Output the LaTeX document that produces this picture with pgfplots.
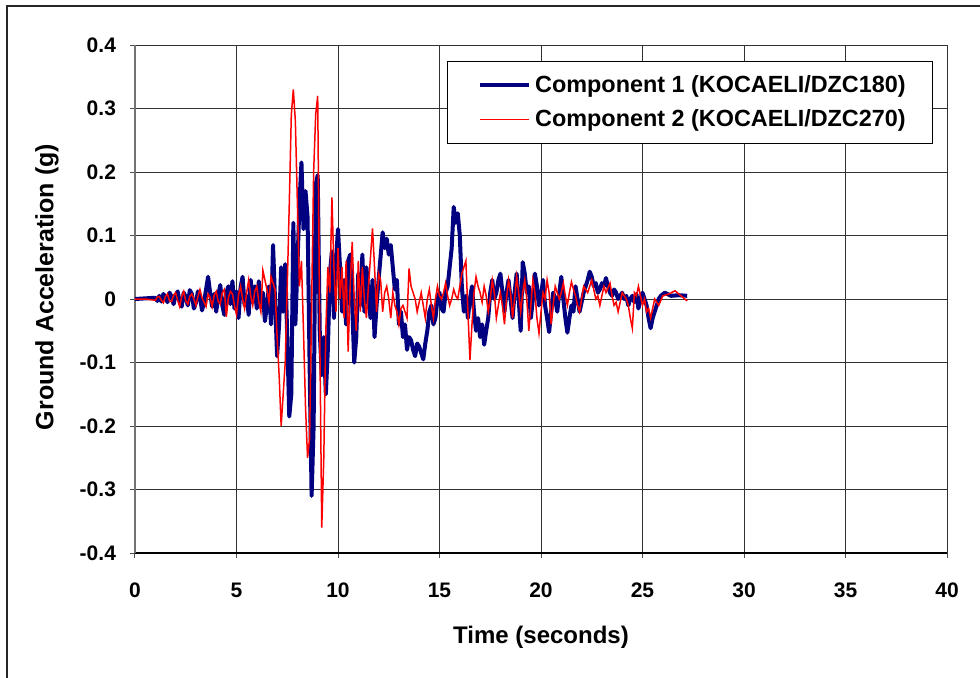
\documentclass[border=0pt]{standalone}
\usepackage{pgfplots}
\pgfplotsset{compat=1.18}
\usepackage{fontspec}
\setmainfont{Liberation Sans}
\newcommand\chartfont{\fontsize{10.5}{12.6}\selectfont\bfseries}
\newcommand\labelfont{\fontsize{12}{14.4}\selectfont\bfseries}
\newcommand\ylabelfont{\fontsize{12.5}{15}\selectfont\bfseries}
\newcommand\legendfont{\fontsize{11.7}{14}\selectfont\bfseries}
\definecolor{compone}{RGB}{0,0,128}
\definecolor{comptwo}{RGB}{255,0,0}
\definecolor{gridgray}{RGB}{50,50,50}

\begin{document}
\begin{tikzpicture}
\useasboundingbox (-67.5pt,-62pt) rectangle (422.5pt,276.5pt);
\draw[line width=0.8pt, black!85] (-64pt,-70pt) -- (-64pt,273.5pt) -- (430pt,273.5pt);
\begin{axis}[
  scale only axis,
  width=406pt, height=254pt,
  xmin=0, xmax=40, ymin=-0.4, ymax=0.4,
  xtick={0,5,...,40},
  ytick={-0.4,-0.3,...,0.4},
  yticklabels={-0.4,-0.3,-0.2,-0.1,0,0.1,0.2,0.3,0.4},
  axis x line*=bottom, axis y line*=left,
  x axis line style={line width=1.2pt, black, -},
  y axis line style={line width=0.9pt, black!55, -},
  grid=major,
  major grid style={line width=0.5pt, gridgray},
  tick align=outside,
  major tick length=2.5pt,
  tick style={black!70, line width=0.5pt},
  /pgf/number format/assume math mode=true,
  tick label style={font=\chartfont},
  xticklabel style={yshift=-9pt},
  yticklabel style={xshift=-3.5pt},
  xlabel={Time (seconds)},
  ylabel={Ground Acceleration (g)},
  xlabel style={font=\labelfont, at={(rel axis cs:0.5,0)}, anchor=center, yshift=-42pt},
  ylabel style={font=\ylabelfont, at={(rel axis cs:0,0.5)}, anchor=center, yshift=44pt, xshift=6pt},
  legend style={at={(0.983,0.9685)}, anchor=north east, draw=black, line width=0.5pt,
    font=\legendfont, inner xsep=11.5pt, inner ysep=5pt, row sep=3pt},
  legend cell align=left,
  legend image code/.code={\path (0pt,0pt); \draw[#1] (4pt,0pt) -- (28.5pt,0pt);},
]
\addplot[color=compone, line width=2pt, line join=round] coordinates {
(0,0) (0.5,0.001) (1.0,0.002) (1.1,-0.003) (1.2,0.005) (1.3,-0.004) (1.4,0.008)
(1.5,0.002) (1.6,-0.005) (1.7,0.010) (1.8,0.004) (1.9,-0.008) (2.0,0.006)
(2.1,0.012) (2.2,-0.004) (2.3,-0.012) (2.4,0.010) (2.5,0.003) (2.6,-0.010)
(2.7,0.014) (2.8,0.008) (2.9,-0.015) (3.0,-0.006) (3.1,0.012) (3.2,0.004)
(3.3,-0.018) (3.4,-0.005) (3.5,0.015) (3.6,0.035) (3.7,0.010) (3.8,-0.012)
(3.9,0.008) (4.0,-0.020) (4.1,0.005) (4.2,0.022) (4.3,-0.010) (4.4,-0.025)
(4.5,0.010) (4.6,0.020) (4.7,-0.008) (4.8,0.028) (4.9,-0.015) (5.0,0.012)
(5.1,-0.030) (5.2,0.018) (5.3,0.035) (5.4,-0.010) (5.5,0.005) (5.6,-0.025)
(5.7,0.030) (5.8,-0.005) (5.9,0.020) (6.0,-0.015) (6.1,0.028) (6.2,-0.008)
(6.3,0.010) (6.4,-0.035) (6.5,-0.010) (6.6,0.020) (6.7,-0.040)
(6.8,0.085) (7.0,-0.090) (7.1,-0.040) (7.2,0.050) (7.3,-0.020) (7.4,0.055)
(7.5,-0.060) (7.6,-0.185) (7.7,-0.150) (7.8,0.120) (7.9,-0.040) (8.0,0.050)
(8.1,0.150) (8.2,0.215) (8.3,0.110) (8.4,0.170) (8.5,0.130) (8.6,-0.100)
(8.7,-0.310) (8.8,-0.200) (8.9,0.180) (9.0,0.195) (9.1,-0.050) (9.2,-0.120)
(9.3,-0.060) (9.4,-0.150) (9.5,-0.080) (9.6,0.040) (9.7,0.075) (9.8,-0.030)
(9.9,0.060) (10.0,0.110) (10.1,0.050) (10.2,-0.020) (10.3,0.030) (10.4,-0.040)
(10.5,0.060) (10.6,0.070) (10.7,-0.010) (10.8,-0.100) (10.9,-0.060) (11.0,0.040)
(11.1,-0.010) (11.2,0.070) (11.3,-0.020) (11.4,0.050) (11.5,0.010) (11.6,-0.030)
(11.7,0.030) (11.8,-0.060) (11.9,-0.010) (12.0,0.030) (12.2,0.105) (12.3,0.080)
(12.4,0.095) (12.5,0.070) (12.6,0.085) (12.8,0.015) (12.9,0.030) (13.0,-0.040)
(13.1,-0.020) (13.2,-0.060) (13.3,-0.040) (13.4,-0.080) (13.5,-0.060)
(13.6,-0.065) (13.7,-0.080) (13.8,-0.090) (13.9,-0.070) (14.0,-0.075)
(14.1,-0.085) (14.2,-0.095) (14.3,-0.070) (14.4,-0.050) (14.5,-0.020)
(14.6,-0.010) (14.7,-0.040) (14.8,-0.030) (14.9,0.000) (15.0,0.010)
(15.1,-0.015) (15.2,-0.020) (15.3,0.010) (15.4,0.020) (15.5,0.050) (15.6,0.080)
(15.7,0.145) (15.8,0.120) (15.9,0.135) (16.0,0.100) (16.1,0.020) (16.2,-0.020)
(16.3,0.005) (16.4,-0.030) (16.5,0.000) (16.6,0.020) (16.7,-0.020) (16.8,-0.050)
(16.9,-0.030) (17.0,-0.060) (17.1,-0.040) (17.2,-0.072) (17.3,-0.050)
(17.4,-0.030) (17.5,0.010) (17.6,0.030) (17.7,0.000) (17.8,0.010) (17.9,0.030)
(18.0,0.040) (18.1,0.010) (18.2,-0.020) (18.3,0.010) (18.4,0.030) (18.5,0.000)
(18.6,-0.030) (18.7,0.010) (18.8,0.040) (18.9,0.000) (19.0,-0.050) (19.1,0.058)
(19.2,0.040) (19.3,0.010) (19.4,0.020) (19.5,-0.030) (19.6,0.000) (19.7,0.040)
(19.8,0.020) (19.9,-0.010) (20.0,0.005) (20.1,0.030) (20.2,-0.010) (20.3,-0.030)
(20.4,-0.052) (20.5,-0.020) (20.6,0.010) (20.7,0.000) (20.8,-0.020) (20.9,0.010)
(21.0,0.035) (21.1,0.000) (21.2,-0.030) (21.3,-0.053) (21.4,-0.030)
(21.5,-0.010) (21.6,-0.020) (21.7,0.020) (21.8,0.000) (21.9,-0.020) (22.0,-0.005)
(22.1,0.010) (22.2,0.020) (22.3,0.030) (22.4,0.043) (22.5,0.035) (22.6,0.020)
(22.7,0.025) (22.8,0.010) (22.9,0.015) (23.0,0.025) (23.1,0.020) (23.2,0.033)
(23.3,0.020) (23.4,0.010) (23.5,0.005) (23.6,0.015) (23.7,0.010) (23.8,0.000)
(23.9,0.005) (24.0,0.010) (24.1,0.000) (24.2,0.005) (24.3,-0.010) (24.4,0.000)
(24.5,0.005) (24.6,-0.005) (24.7,0.008) (24.8,-0.015) (24.9,0.000) (25.0,0.010)
(25.1,0.000) (25.2,-0.010) (25.3,-0.030) (25.4,-0.046) (25.5,-0.030)
(25.6,-0.020) (25.7,-0.010) (25.8,0.000) (25.9,0.005) (26.1,0.010) (26.4,0.005)
(26.8,0.006) (27.2,0.005)
};
\addlegendentry{Component 1 (KOCAELI/DZC180)}
\addplot[color=comptwo, line width=0.75pt] coordinates {
(0,0) (0.5,0.000) (1.0,-0.002) (1.1,0.003) (1.2,0.004) (1.3,-0.002) (1.4,-0.006)
(1.5,0.004) (1.6,0.008) (1.7,-0.003) (1.8,-0.004) (1.9,0.006) (2.0,0.010)
(2.1,-0.002) (2.2,-0.012) (2.3,0.004) (2.4,0.012) (2.5,-0.003) (2.6,-0.008)
(2.7,0.004) (2.8,0.008) (2.9,0.000) (3.0,-0.010) (3.1,0.004) (3.2,0.015)
(3.3,0.002) (3.4,-0.005) (3.5,-0.012) (3.6,0.008) (3.7,0.002) (3.8,-0.012)
(3.9,0.006) (4.0,0.012) (4.1,-0.004) (4.2,-0.008) (4.3,0.010) (4.4,0.015)
(4.5,-0.028) (4.6,0.002) (4.7,0.012) (4.8,0.008) (4.9,-0.010) (5.0,-0.025)
(5.1,0.006) (5.2,0.020) (5.3,0.000) (5.4,-0.015) (5.5,0.010) (5.6,0.030)
(5.7,0.005) (5.8,-0.010) (5.9,0.012) (6.0,0.020) (6.1,-0.005) (6.2,-0.020)
(6.3,0.045) (6.4,0.030) (6.5,0.015)
(6.6,-0.005) (6.7,0.035) (6.9,0.015) (7.0,-0.060) (7.1,-0.120) (7.2,-0.200)
(7.3,-0.150) (7.4,-0.100) (7.5,0.020) (7.6,0.150) (7.7,0.290) (7.8,0.330)
(7.9,0.280) (8.0,0.150) (8.1,0.020) (8.2,0.060) (8.3,-0.050) (8.4,-0.170)
(8.5,-0.250) (8.6,-0.220) (8.7,-0.010) (8.8,0.200) (8.9,0.290) (9.0,0.320)
(9.1,-0.050) (9.2,-0.360) (9.3,-0.250) (9.4,-0.050) (9.5,0.050) (9.6,0.010)
(9.7,0.160) (9.8,0.050) (9.9,-0.020) (10.0,0.080) (10.1,0.000) (10.2,0.050)
(10.3,-0.030) (10.4,0.060) (10.5,-0.083) (10.6,0.020) (10.7,0.090) (10.8,0.000)
(10.9,-0.050) (11.0,0.060) (11.1,-0.020) (11.2,0.050) (11.3,0.000) (11.4,-0.030)
(11.5,0.020) (11.7,0.111) (11.8,0.050) (11.9,-0.020) (12.0,0.040) (12.1,0.030)
(12.2,-0.020) (12.3,0.010) (12.4,0.020) (12.5,0.000) (12.6,-0.030) (12.7,0.010)
(12.8,-0.010) (12.9,-0.020) (13.0,-0.040) (13.1,-0.015) (13.2,-0.010)
(13.3,-0.020) (13.4,-0.030) (13.5,0.048) (13.6,0.020) (13.7,0.010) (13.8,0.000)
(13.9,-0.020) (14.0,-0.005) (14.1,0.010) (14.2,-0.010) (14.3,-0.030)
(14.4,0.000) (14.5,0.015) (14.6,-0.010) (14.7,-0.030) (14.8,0.000) (14.9,0.020)
(15.0,0.005) (15.1,0.000) (15.2,0.010) (15.3,0.025) (15.4,0.005) (15.5,-0.010)
(15.6,0.000) (15.7,0.015) (15.8,0.005) (15.9,0.000) (16.0,0.020) (16.1,0.040)
(16.2,0.050) (16.3,0.060) (16.4,-0.020) (16.5,-0.096) (16.6,-0.040)
(16.7,0.010) (16.8,0.035) (16.9,0.020) (17.0,0.010) (17.1,-0.005) (17.2,0.020)
(17.3,0.005) (17.4,-0.020) (17.5,0.000) (17.6,0.030) (17.7,0.010) (17.8,-0.030)
(17.9,-0.010) (18.0,0.010) (18.1,-0.010) (18.2,-0.040) (18.3,0.000)
(18.4,0.030) (18.5,0.010) (18.6,-0.030) (18.7,0.000) (18.8,0.035) (18.9,0.010)
(19.0,-0.020) (19.1,0.010) (19.2,0.030) (19.3,0.000) (19.4,-0.050) (19.5,-0.010)
(19.6,0.030) (19.7,0.010) (19.8,-0.030) (19.9,-0.054) (20.0,-0.020)
(20.1,0.010) (20.2,0.000) (20.3,0.030) (20.4,0.010) (20.5,-0.040) (20.6,-0.010)
(20.7,0.020) (20.8,0.010) (20.9,0.000) (21.0,0.010) (21.1,0.025) (21.2,0.005)
(21.3,-0.010) (21.4,0.010) (21.5,0.027) (21.6,0.015) (21.7,0.005) (21.8,-0.010)
(21.9,-0.020) (22.0,0.000) (22.1,0.020) (22.2,0.015) (22.3,0.010) (22.4,0.020)
(22.5,0.030) (22.6,0.015) (22.7,0.000) (22.8,0.005) (22.9,-0.010) (23.0,0.005)
(23.1,0.020) (23.2,0.010) (23.4,0.025) (23.5,0.005) (23.6,-0.010) (23.7,-0.005)
(23.8,-0.020) (23.9,-0.005) (24.0,0.010) (24.1,0.005) (24.2,0.000) (24.3,-0.010)
(24.4,-0.030) (24.5,-0.046) (24.6,0.010) (24.7,0.005) (24.8,0.020)
(24.9,0.005) (25.0,-0.010) (25.1,0.000) (25.2,-0.020) (25.3,-0.015)
(25.4,-0.030) (25.5,-0.015) (25.6,0.000) (25.8,-0.010) (26.0,0.005) (26.3,0.008)
(26.6,0.013) (26.9,0.005) (27.2,-0.003)
};
\addlegendentry{Component 2 (KOCAELI/DZC270)}
\end{axis}
\end{tikzpicture}
\end{document}
